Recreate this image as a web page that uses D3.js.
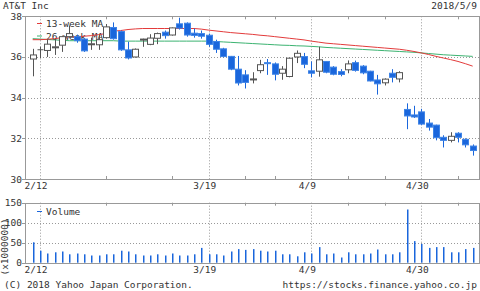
<!DOCTYPE html>
<html>
<head>
<meta charset="utf-8">
<script src="https://cdn.jsdelivr.net/npm/d3@7"></script>
<style>
  body { margin: 0; background: #fff; }
  svg { display: block; }
  text { font-family: "DejaVu Sans Mono", monospace; font-size: 9.5px; fill: #333; }
</style>
</head>
<body>
<svg id="chart" width="480" height="291"></svg>
<script>
// daily candles, 2/9 .. 5/9
var opens  = [35.9,36.38,36.32,36.45,36.58,37.0,37.0,36.88,36.6,36.6,36.95,37.45,37.25,36.35,36.0,36.87,36.62,36.92,37.22,37.08,
              37.63,37.66,37.17,37.15,37.07,36.76,36.4,36.03,35.4,35.12,34.9,35.33,35.72,35.66,35.2,35.04,36.0,36.02,35.32,35.3,
              35.78,35.5,35.28,35.37,35.72,35.55,35.3,34.87,34.73,35.2,34.92,33.42,33.15,33.3,32.75,32.65,32.05,31.9,32.25,31.95,31.62];
var highs  = [36.4,36.5,36.87,36.9,37.05,37.55,37.1,36.92,36.95,37.1,37.62,37.7,37.3,36.75,36.42,36.9,37.12,37.2,37.3,37.45,
              37.93,37.7,37.4,37.3,37.15,36.85,36.45,36.05,36.05,35.35,35.25,35.86,35.9,35.73,35.55,35.96,36.32,36.2,35.78,36.5,
              35.8,35.55,35.4,35.83,35.82,35.6,35.32,35.12,34.95,35.4,35.3,33.72,33.6,33.45,32.95,32.67,32.15,32.3,32.3,32.0,31.7];
var lows   = [35.05,35.95,36.0,36.1,36.25,36.95,36.7,36.25,36.35,36.35,36.9,36.85,36.3,35.88,35.97,36.5,36.58,36.63,36.9,37.05,
              37.35,37.0,36.95,36.9,36.5,36.2,35.98,35.35,34.6,34.45,34.7,35.2,35.12,34.85,34.88,35.0,35.7,35.45,35.0,35.03,
              35.2,35.1,35.05,35.2,35.28,35.15,34.8,34.15,34.6,34.75,34.75,32.45,33.0,32.65,32.38,31.9,31.55,31.8,31.8,31.55,31.15];
var closes = [36.1,36.38,36.63,36.5,37.0,37.15,36.8,36.3,36.65,36.85,37.48,36.9,36.35,35.95,36.38,36.88,36.93,37.15,37.05,37.43,
              37.42,37.08,37.06,37.02,36.62,36.38,36.02,35.4,34.72,34.75,34.92,35.62,35.68,35.15,35.4,35.94,36.18,35.64,35.2,35.86,
              35.25,35.15,35.14,35.66,35.34,35.22,34.82,34.68,34.91,35.0,35.23,33.1,33.05,32.7,32.55,32.03,31.9,32.1,32.05,31.68,31.4];
var ma13   = [36.85,36.85,36.87,36.9,36.95,37.0,37.0,37.02,37.05,37.1,37.15,37.27,37.3,37.35,37.38,37.4,37.4,37.4,37.4,37.4,
              37.4,37.4,37.4,37.37,37.32,37.28,37.24,37.2,37.17,37.14,37.11,37.07,37.04,37.0,36.96,36.92,36.88,36.84,36.78,36.73,
              36.68,36.65,36.62,36.59,36.56,36.53,36.5,36.47,36.44,36.41,36.38,36.33,36.27,36.2,36.12,36.03,35.95,35.87,35.78,35.67,35.55];
var ma26   = [36.9,36.88,36.86,36.84,36.82,36.8,36.8,36.8,36.8,36.8,36.8,36.8,36.78,36.78,36.78,36.78,36.78,36.78,36.78,36.78,
              36.78,36.78,36.78,36.78,36.78,36.76,36.74,36.72,36.7,36.68,36.66,36.64,36.62,36.6,36.58,36.57,36.55,36.54,36.52,36.5,
              36.47,36.45,36.43,36.41,36.39,36.37,36.35,36.33,36.31,36.29,36.27,36.25,36.23,36.2,36.17,36.14,36.11,36.09,36.07,36.05,36.03];
var volumes = [51,30,23,26,28,21,23,21,18,18,21,21,30,28,21,18,18,21,18,23,
               18,18,21,37,21,21,18,28,34,32,34,30,28,30,21,21,16,26,23,39,
               21,23,13,26,21,21,23,33,21,21,26,133,54,47,37,39,39,26,26,34,37];

var dateLabels = ["2/12", "3/19", "4/9", "4/30"];
var dateIdx = [1, 24, 38, 53];
var minorIdx = [10, 19, 29, 33, 43, 48, 58];
var priceTicks = [30, 32, 34, 36, 38];
var volTicks = [0, 50, 100, 150];

var svg = d3.select("#chart");
var left = 25, right = 479;
var grid = "#999";

var x = d3.scaleLinear().domain([-1.05, 61]).range([left, 480]);
var y = d3.scaleLinear().domain([30, 38]).range([179, 16.3]);
var yv = d3.scaleLinear().domain([0, 150]).range([262.7, 202.7]);

// header
svg.append("text").attr("x", 3).attr("y", 9).text("AT&T Inc");
svg.append("text").attr("x", 477).attr("y", 9).attr("text-anchor", "end").text("2018/5/9");

function panel(ys, ticks, fmt) {
  var top = ys.range()[1], bot = ys.range()[0];
  var g = svg.append("g");
  // dotted grid
  g.selectAll(".hg").data(ticks.slice(1, -1)).enter().append("line")
    .attr("x1", left).attr("x2", right)
    .attr("y1", function(d) { return Math.round(ys(d)) + 0.5; })
    .attr("y2", function(d) { return Math.round(ys(d)) + 0.5; })
    .attr("stroke", grid).attr("stroke-dasharray", "1,2");
  g.selectAll(".vg").data(dateIdx).enter().append("line")
    .attr("x1", function(d) { return Math.round(x(d)) + 0.5; })
    .attr("x2", function(d) { return Math.round(x(d)) + 0.5; })
    .attr("y1", top).attr("y2", bot)
    .attr("stroke", grid).attr("stroke-dasharray", "1,2");
  // minor ticks top and bottom
  minorIdx.forEach(function(d) {
    var xx = Math.round(x(d)) + 0.5;
    g.append("line").attr("x1", xx).attr("x2", xx).attr("y1", top).attr("y2", top + 3).attr("stroke", grid);
    g.append("line").attr("x1", xx).attr("x2", xx).attr("y1", bot - 3).attr("y2", bot).attr("stroke", grid);
  });
  // frame
  g.append("rect").attr("x", left + 0.5).attr("y", Math.round(top) + 0.5)
    .attr("width", right - left).attr("height", Math.round(bot) - Math.round(top))
    .attr("fill", "none").attr("stroke", grid);
  // y ticks + labels
  g.selectAll(".yt").data(ticks).enter().append("line")
    .attr("x1", left - 3).attr("x2", left)
    .attr("y1", function(d) { return Math.round(ys(d)) + 0.5; })
    .attr("y2", function(d) { return Math.round(ys(d)) + 0.5; })
    .attr("stroke", grid);
  g.selectAll(".yl").data(ticks).enter().append("text")
    .attr("x", 22).attr("y", function(d) { return ys(d) + 3.5; })
    .attr("text-anchor", "end").text(fmt);
  // date labels
  g.selectAll(".xl").data(dateIdx).enter().append("text")
    .attr("x", function(d) { return x(d) - 4; })
    .attr("y", bot + 10)
    .attr("text-anchor", "middle")
    .text(function(d, i) { return dateLabels[i]; });
}

panel(y, priceTicks, function(d) { return d; });
panel(yv, volTicks, function(d) { return d; });

// legends
function legend(ly, color, label) {
  svg.append("line").attr("x1", 37).attr("x2", 42).attr("y1", ly).attr("y2", ly).attr("stroke", color);
  svg.append("text").attr("x", 46).attr("y", ly + 3.5).text(label);
}
legend(23.5, "#e33b3b", "13-week MA");
legend(36, "#3cb371", "26-week MA");
legend(211.5, "#1a66dc", "Volume");

// moving averages
var idx = d3.range(opens.length);
var mline = function(arr) {
  return d3.line().x(function(i) { return x(i); }).y(function(i) { return y(arr[i]); });
};
svg.append("path").datum(idx).attr("d", mline(ma26)).attr("fill", "none").attr("stroke", "#3cb371");
svg.append("path").datum(idx).attr("d", mline(ma13)).attr("fill", "none").attr("stroke", "#e33b3b");

// candles
var blue = "#1a66dc", dark = "#555";
var c = svg.append("g").selectAll("g").data(idx).enter().append("g");
c.append("line")
  .attr("x1", function(i) { return Math.round(x(i)) + 0.5; })
  .attr("x2", function(i) { return Math.round(x(i)) + 0.5; })
  .attr("y1", function(i) { return y(highs[i]); })
  .attr("y2", function(i) { return y(lows[i]); })
  .attr("stroke", function(i) { return closes[i] < opens[i] ? blue : dark; });
c.append("rect")
  .attr("x", function(i) { return Math.round(x(i)) - 2.5; })
  .attr("width", 6)
  .attr("y", function(i) { return y(Math.max(opens[i], closes[i])); })
  .attr("height", function(i) { return Math.max(1, Math.abs(y(opens[i]) - y(closes[i]))); })
  .attr("fill", function(i) { return closes[i] < opens[i] ? blue : (closes[i] > opens[i] ? "#fff" : dark); })
  .attr("stroke", function(i) { return closes[i] < opens[i] ? "#3f84e6" : dark; })
  .attr("stroke-width", function(i) { return closes[i] === opens[i] ? 0 : 1; });

// volume bars
svg.append("g").selectAll("rect").data(idx).enter().append("rect")
  .attr("x", function(i) { return Math.round(x(i)); })
  .attr("width", 1.5)
  .attr("y", function(i) { return yv(volumes[i]); })
  .attr("height", function(i) { return yv(0) - yv(volumes[i]); })
  .attr("fill", blue);

svg.append("text").attr("transform", "translate(8,247) rotate(-90)")
  .attr("text-anchor", "middle").text("(x1000000)");

// footer
svg.append("text").attr("x", 4).attr("y", 288).text("(C) 2018 Yahoo Japan Corporation.");
svg.append("text").attr("x", 477).attr("y", 288).attr("text-anchor", "end").text("https://stocks.finance.yahoo.co.jp");
</script>
</body>
</html>
